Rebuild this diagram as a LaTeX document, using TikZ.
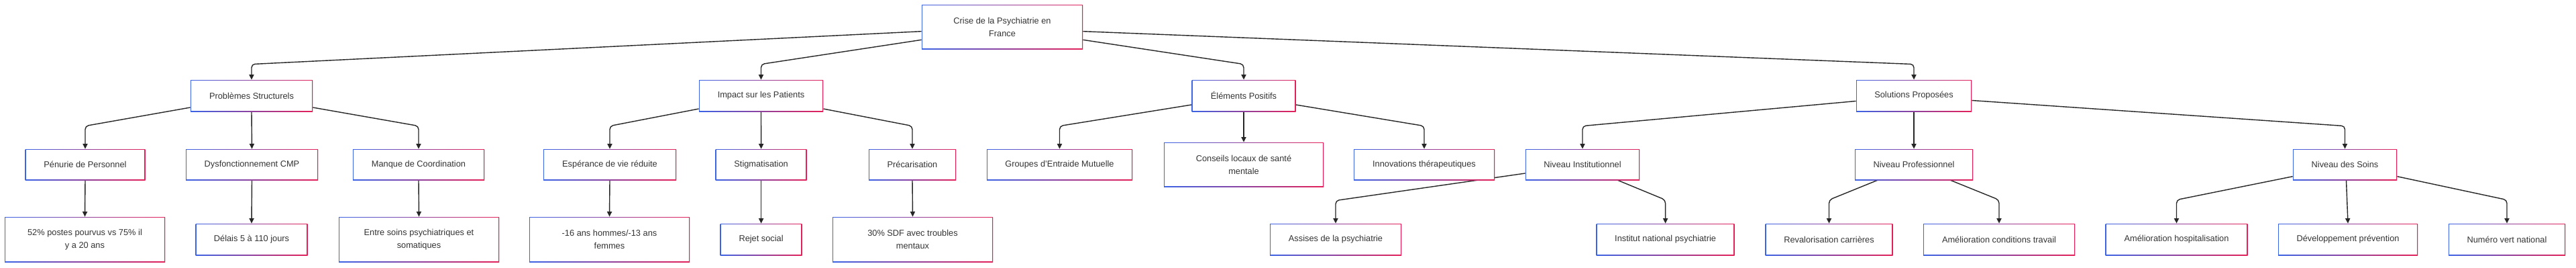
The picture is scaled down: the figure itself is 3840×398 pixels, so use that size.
\documentclass[tikz,border=0pt]{standalone}
\usepackage{fontspec}
\setmainfont{Liberation Sans}
\usetikzlibrary{arrows.meta,calc,shadows}
\definecolor{bblue}{RGB}{59,99,229}
\definecolor{bred}{RGB}{228,32,88}
\definecolor{txt}{RGB}{51,51,51}
\pgfdeclarelayer{background}
\pgfsetlayers{background,main}
\tikzset{
 box/.style={inner sep=0pt, fill=white, align=center, text=txt,
   font=\fontsize{6.4}{9.5}\selectfont,
   general shadow={shadow xshift=0.3pt, shadow yshift=-0.6pt, fill=black, opacity=0.06},
   path picture={\shade[left color=bblue,right color=bred] (path picture bounding box.south west) rectangle (path picture bounding box.north east);
     \fill[white] ([shift={(0.72pt,0.72pt)}]path picture bounding box.south west) rectangle ([shift={(-0.72pt,-0.72pt)}]path picture bounding box.north east);}},
 link/.style={draw=black!85, line width=0.7pt, rounded corners=2.5pt, -{Triangle[length=3.8pt,width=3.6pt]}}
}
\newcommand\mkbox[6]{\node[box,minimum width=#4*0.5pt,minimum height=#5*0.5pt] (#1) at (#2,#3) {#6};}
\begin{document}
\begin{tikzpicture}[x=0.5pt,y=-0.5pt]
\useasboundingbox (0,0) rectangle (3840,398);
% root
\mkbox{root}{1494}{40}{240}{66}{Crise de la Psychiatrie en\\France}
% level 1
\mkbox{ps}{375}{142.5}{182}{47}{Problèmes Structurels}
\mkbox{ip}{1134.5}{142.5}{185}{47}{Impact sur les Patients}
\mkbox{ep}{1854}{142.5}{155}{47}{Éléments Positifs}
\mkbox{sp}{2853}{142.5}{172}{47}{Solutions Proposées}
% level 2
\mkbox{pen}{127}{245}{179}{46}{Pénurie de Personnel}
\mkbox{dys}{375.5}{245}{197}{46}{Dysfonctionnement CMP}
\mkbox{man}{624}{245}{196}{46}{Manque de Coordination}
\mkbox{esp}{909}{245}{198}{46}{Espérance de vie réduite}
\mkbox{stig}{1134.6}{245}{136}{46}{Stigmatisation}
\mkbox{prec}{1360}{245}{130}{46}{Précarisation}
\mkbox{grp}{1579.5}{245}{217}{46}{Groupes d'Entraide Mutuelle}
\mkbox{cons}{1854}{245}{238}{66}{Conseils locaux de santé\\mentale}
\mkbox{inno}{2123}{245}{210}{46}{Innovations thérapeutiques}
\mkbox{ninst}{2359}{245}{170}{46}{Niveau Institutionnel}
\mkbox{npro}{2853}{245}{176}{46}{Niveau Professionnel}
\mkbox{nsoins}{3495.5}{245}{155}{46}{Niveau des Soins}
% level 3
\mkbox{p52}{126.5}{356.5}{239}{67}{52\% postes pourvus vs 75\% il\\y a 20 ans}
\mkbox{del}{375}{356.5}{167}{47}{Délais 5 à 110 jours}
\mkbox{ent}{624.5}{356.5}{239}{67}{Entre soins psychiatriques et\\somatiques}
\mkbox{m16}{908.5}{356.5}{239}{67}{-16 ans hommes/-13 ans\\femmes}
\mkbox{rej}{1134.6}{356.5}{122}{47}{Rejet social}
\mkbox{sdf}{1360.5}{356.5}{239}{67}{30\% SDF avec troubles\\mentaux}
\mkbox{ass}{1991}{356.5}{196}{47}{Assises de la psychiatrie}
\mkbox{inst}{2482.6}{356.5}{206}{47}{Institut national psychiatrie}
\mkbox{rev}{2726.5}{356.5}{190}{47}{Revalorisation carrières}
\mkbox{acond}{2980}{356.5}{226}{47}{Amélioration conditions travail}
\mkbox{ahosp}{3244.5}{356.5}{212}{47}{Amélioration hospitalisation}
\mkbox{dev}{3500}{356.5}{208}{47}{Développement prévention}
\mkbox{num}{3737}{356.5}{174}{47}{Numéro vert national}
\begin{pgfonlayer}{background}
\fill[white] (0,0) rectangle (3840,398);
% root edges
\draw[link] ($(root.west)+(0,6.7)$) -- ($(ps.north)+(0,-23)$) -- (ps.north);
\draw[link] ($(root.west)+(0,19.3)$) -- ($(ip.north)+(0,-23)$) -- (ip.north);
\draw[link] ($(root.east)+(0,19.3)$) -- ($(ep.north)+(0,-23)$) -- (ep.north);
\draw[link] ($(root.east)+(0,6.7)$) -- ($(sp.north)+(0,-23)$) -- (sp.north);
% ps
\draw[link] ($(ps.west)+(0,17.5)$) -- ($(pen.north)+(0,-34)$) -- (pen.north);
\draw[link] (ps.south) -- (dys.north);
\draw[link] ($(ps.east)+(0,17.5)$) -- ($(man.north)+(0,-34)$) -- (man.north);
% ip
\draw[link] ($(ip.west)+(0,19.5)$) -- ($(esp.north)+(0,-34)$) -- (esp.north);
\draw[link] (ip.south) -- (stig.north);
\draw[link] ($(ip.east)+(0,19.5)$) -- ($(prec.north)+(0,-34)$) -- (prec.north);
% ep
\draw[link] ($(ep.west)+(0,13.5)$) -- ($(grp.north)+(0,-34)$) -- (grp.north);
\draw[link] (ep.south) -- (cons.north);
\draw[link] ($(ep.east)+(0,13.5)$) -- ($(inno.north)+(0,-34)$) -- (inno.north);
% sp
\draw[link] ($(sp.west)+(0,8)$) -- ($(ninst.north)+(0,-34)$) -- (ninst.north);
\draw[link] (sp.south) -- (npro.north);
\draw[link] ($(sp.east)+(0,7)$) -- ($(nsoins.north)+(0,-34)$) -- (nsoins.north);
% leaves
\draw[link] (pen.south) -- (p52.north);
\draw[link] (dys.south) -- (del.north);
\draw[link] (man.south) -- (ent.north);
\draw[link] (esp.south) -- (m16.north);
\draw[link] (stig.south) -- (rej.north);
\draw[link] (prec.south) -- (sdf.north);
\draw[link] ($(ninst.west)+(0,13)$) -- ($(ass.north)+(0,-34)$) -- (ass.north);
\draw[link] ($(ninst.south)+(52.7,0)$) -- ($(inst.north)+(0,-35)$) -- (inst.north);
\draw[link] ($(npro.south)+(-54.5,0)$) -- ($(rev.north)+(0,-35)$) -- (rev.north);
\draw[link] ($(npro.south)+(54.7,0)$) -- ($(acond.north)+(0,-35)$) -- (acond.north);
\draw[link] ($(nsoins.west)+(0,17.7)$) -- ($(ahosp.north)+(0,-35)$) -- (ahosp.north);
\draw[link] ($(nsoins.south)+(2,0)$) -- (dev.north);
\draw[link] ($(nsoins.east)+(0,17.7)$) -- ($(num.north)+(0,-35)$) -- (num.north);
\end{pgfonlayer}
\end{tikzpicture}
\end{document}
